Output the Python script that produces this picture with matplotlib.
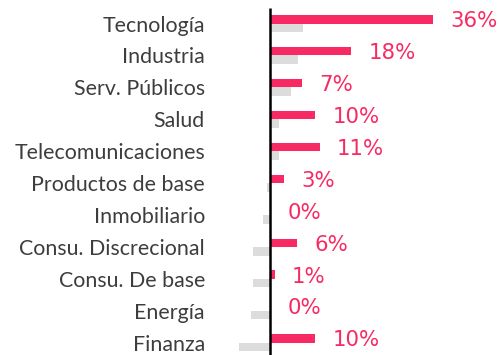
import numpy as np
import matplotlib.pyplot as plt

sectors = ["Tecnología", "Industria", "Serv. Públicos", "Salud", "Telecomunicaciones",
           "Productos de base", "Inmobiliario", "Consu. Discrecional", "Consu. De base",
           "Energía", "Finanza"]
fund = [36, 18, 7, 10, 11, 3, 0, 6, 1, 0, 10]
bench = [7.2, 6.3, 4.7, 2.0, 2.0, -0.7, -1.5, -3.8, -3.8, -4.2, -6.9]

PINK = "#F72A63"
GREY = "#DCDCDC"

fig = plt.figure(figsize=(5, 3.55), dpi=100)
ax = fig.add_axes([0.46, 0, 0.54, 1])

y = np.arange(len(sectors))
h = 0.266
ax.barh(y - h / 2, fund, height=h, color=PINK, zorder=2)
ax.barh(y + h / 2, bench, height=h, color=GREY, zorder=1)
ax.vlines(0, -0.48, 11, color="black", lw=1.8, zorder=3)

for yi, v in zip(y, fund):
    ax.annotate(f"{v}%", (v, yi - h / 2), xytext=(12.5, -1.3), textcoords="offset points",
                va="center", ha="left", color=PINK, fontsize=15.3,
                family="DejaVu Sans")

ax.set_xlim(-8.85, 50.9)
ax.set_ylim(10.38, -0.736)
ax.set_yticks(y)
ax.set_yticklabels(sectors, family="Lato", fontsize=15.4, color="#3d3d3d")
ax.tick_params(axis="y", length=0, pad=18)
ax.set_xticks([])
for s in ax.spines.values():
    s.set_visible(False)

fig.savefig("out.png", dpi=100)
